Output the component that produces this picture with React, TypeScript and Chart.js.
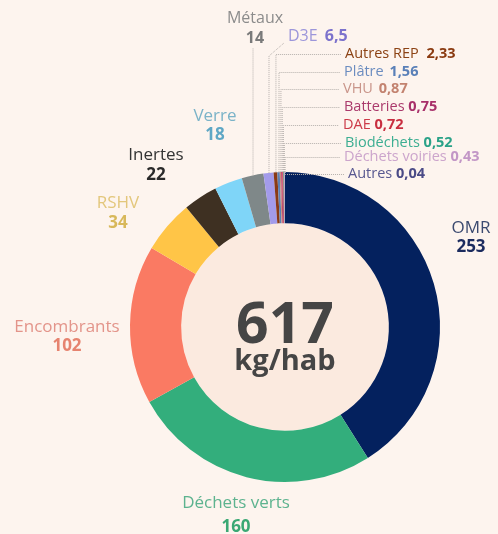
import React, { useEffect, useRef } from "react";
import { Chart, registerables } from "chart.js";

Chart.register(...registerables);

const categories = ["OMR", "Déchets verts", "Encombrants", "RSHV", "Inertes", "Verre", "Métaux", "D3E", "Autres REP", "Plâtre", "VHU", "Batteries", "DAE", "Biodéchets", "Déchets voiries", "Autres"];
const values = [253, 160, 102, 34, 22, 18, 14, 6.5, 2.33, 1.56, 0.87, 0.75, 0.72, 0.52, 0.43, 0.04];
const totalText = "617";
const unitText = "kg/hab";

const sliceColors = ["#04215E", "#33AE7C", "#FA7A63", "#FFC547", "#3E3022", "#7FD5F8", "#7F8889", "#A39BEA", "#8A3A16", "#5C80B2", "#C98B7B", "#B2386C", "#D3334A", "#2FA98B", "#C89BC8", "#5B5B9B"];
const nameColors = ["#3B4A70", "#5DB38F", "#E3948A", "#E3C77C", "#333333", "#7BB3C8", "#8C8C8C", "#9C96DA", "#8C4214", "#6C8DC0", "#C9958A", "#AA3A6C", "#CC3A48", "#3DAE92", "#CCA5CC", "#585890"];
const valueColors = ["#1B2B5E", "#3AA874", "#E6836F", "#D8B85A", "#2A2A2A", "#5FA7C5", "#7A7A7A", "#7C72CC", "#8A3A10", "#5A80B8", "#C38370", "#A8306A", "#C82E40", "#2AA288", "#C296C6", "#4A4A86"];

// layout of labels (positions only)
type Lay = { kind: "center" | "inline"; x: number; y: number; y2?: number; leader: "none" | "vertical" | "bent" | "elbow"; ly?: number; size: number; gap?: number };
const layout: Lay[] = [
  { kind: "center", x: 471, y: 228, y2: 247, leader: "none", size: 17 },
  { kind: "center", x: 236, y: 503, y2: 527, leader: "none", size: 17 },
  { kind: "center", x: 67, y: 327, y2: 346, leader: "none", size: 17 },
  { kind: "center", x: 118, y: 203, y2: 223, leader: "none", size: 17 },
  { kind: "center", x: 156, y: 155, y2: 175, leader: "none", size: 17 },
  { kind: "center", x: 215, y: 116, y2: 135, leader: "none", size: 17 },
  { kind: "center", x: 255, y: 18, y2: 38, leader: "vertical", ly: 48, size: 16 },
  { kind: "inline", x: 288, y: 36, leader: "bent", ly: 56, size: 16, gap: 3 },
  { kind: "inline", x: 345, y: 54, leader: "elbow", size: 14.5, gap: 4 },
  { kind: "inline", x: 344, y: 72, leader: "elbow", size: 14.5, gap: 2 },
  { kind: "inline", x: 343, y: 89, leader: "elbow", size: 14.5, gap: 2 },
  { kind: "inline", x: 344, y: 107, leader: "elbow", size: 14.5 },
  { kind: "inline", x: 343, y: 125, leader: "elbow", size: 14.5 },
  { kind: "inline", x: 345, y: 143, leader: "elbow", size: 14.5 },
  { kind: "inline", x: 344, y: 157, leader: "elbow", size: 14.5 },
  { kind: "inline", x: 348, y: 174, leader: "elbow", size: 14.5 },
];

const FONT = "'Open Sans', 'Noto Sans', sans-serif";
const BG = "#FDF4EE";
const CENTER_BG = "#FBEADF";

const fmt = (v: number) => String(v).replace(".", ",");

const labelPlugin = {
  id: "wasteLabels",
  beforeDatasetsDraw(chart: any) {
    const arc = chart.getDatasetMeta(0).data[0];
    if (!arc) return;
    const ctx = chart.ctx;
    ctx.save();
    ctx.fillStyle = CENTER_BG;
    ctx.beginPath();
    ctx.arc(arc.x, arc.y, arc.innerRadius, 0, Math.PI * 2);
    ctx.fill();
    ctx.restore();
  },
  afterDatasetsDraw(chart: any) {
    const meta = chart.getDatasetMeta(0);
    const ctx = chart.ctx;
    const first = meta.data[0];
    ctx.save();
    // center text
    ctx.fillStyle = "#454545";
    ctx.textAlign = "center";
    ctx.textBaseline = "alphabetic";
    ctx.font = `bold 57px ${FONT}`;
    ctx.fillText(totalText, first.x, 343);
    ctx.font = `bold 29px ${FONT}`;
    ctx.fillText(unitText, first.x, 370);

    // leaders
    ctx.strokeStyle = "#B5B0AC";
    ctx.lineWidth = 1;
    ctx.setLineDash([1, 1]);
    meta.data.forEach((el: any, i: number) => {
      const L = layout[i];
      if (!L || L.leader === "none") return;
      const a = (el.startAngle + el.endAngle) / 2;
      const px = el.x + el.outerRadius * Math.cos(a);
      const py = el.y + el.outerRadius * Math.sin(a);
      ctx.beginPath();
      ctx.moveTo(px + 0.5, py);
      if (L.leader === "vertical") {
        ctx.lineTo(px + 0.5, L.ly!);
      } else if (L.leader === "bent") {
        ctx.lineTo(px + 0.5, L.ly!);
        ctx.lineTo(L.x - 4, L.y + 7);
      } else {
        ctx.lineTo(px + 0.5, L.y + 0.5);
        ctx.lineTo(L.x - 4, L.y + 0.5);
      }
      ctx.stroke();
    });
    ctx.setLineDash([]);

    // labels
    ctx.textBaseline = "middle";
    categories.forEach((name, i) => {
      const L = layout[i];
      const val = fmt(values[i]);
      if (L.kind === "center") {
        ctx.textAlign = "center";
        ctx.font = `${L.size}px ${FONT}`;
        ctx.fillStyle = nameColors[i];
        ctx.fillText(name, L.x, L.y);
        ctx.font = `bold ${L.size}px ${FONT}`;
        ctx.fillStyle = valueColors[i];
        ctx.fillText(val, L.x, L.y2!);
      } else {
        ctx.textAlign = "left";
        ctx.font = `${L.size}px ${FONT}`;
        ctx.fillStyle = nameColors[i];
        ctx.fillText(name, L.x, L.y);
        const w = ctx.measureText(name + " ").width;
        ctx.font = `bold ${L.size}px ${FONT}`;
        ctx.fillStyle = valueColors[i];
        ctx.fillText(val, L.x + w + (L.gap || 0), L.y);
      }
    });
    ctx.restore();
  },
};

export default function App() {
  const ref = useRef<HTMLCanvasElement | null>(null);
  useEffect(() => {
    document.body.style.margin = "0";
    document.body.style.background = BG;
    if (!ref.current) return;
    const chart = new Chart(ref.current, {
      type: "doughnut",
      data: {
        labels: categories,
        datasets: [
          {
            data: values,
            backgroundColor: sliceColors,
            borderWidth: 0,
          },
        ],
      },
      options: {
        responsive: false,
        animation: false,
        cutout: "67%",
        layout: { padding: { left: 130, right: 58, top: 172, bottom: 52 } },
        plugins: {
          legend: { display: false },
          tooltip: { enabled: false },
        },
      },
      plugins: [labelPlugin],
    });
    return () => chart.destroy();
  }, []);
  return (
    <div style={{ width: 498, height: 534, background: BG }}>
      <canvas ref={ref} width={498} height={534} style={{ display: "block" }} />
    </div>
  );
}
